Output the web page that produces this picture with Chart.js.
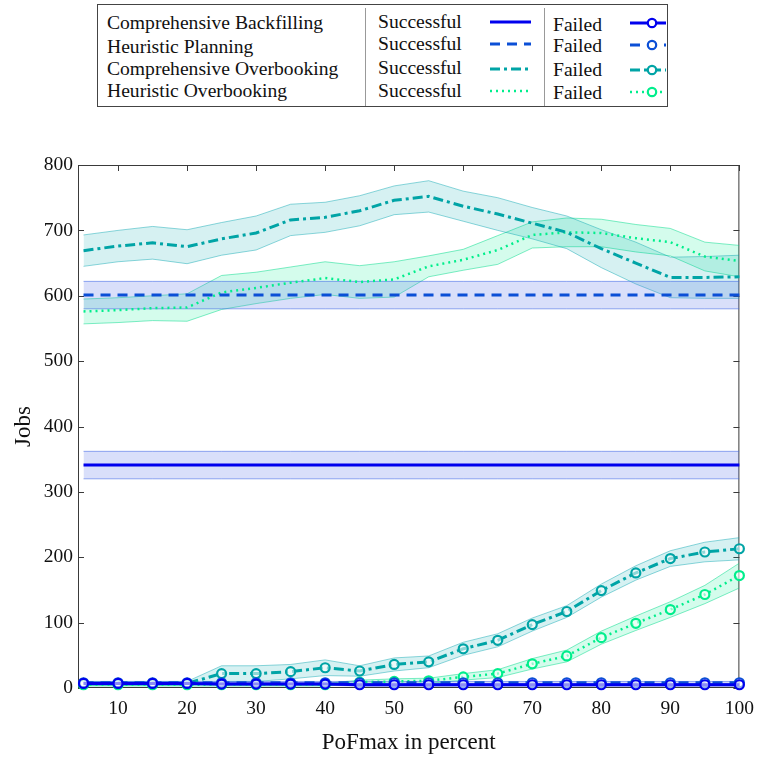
<!DOCTYPE html>
<html>
<head>
<meta charset="utf-8">
<script src="https://cdn.jsdelivr.net/npm/chart.js@4.4.1/dist/chart.umd.min.js"></script>
<style>
  body { margin: 0; background: #fff; }
  #wrap { position: relative; width: 763px; height: 758px; }
  #chart { position: absolute; left: 0; top: 0; }
  #legend { position: absolute; left: 0; top: 0; }
  #legend text { font-family: "Liberation Serif", serif; font-size: 19.6px; fill: #111; }
</style>
</head>
<body>
<div id="wrap">
  <canvas id="chart" width="763" height="758"></canvas>
  <svg id="legend" width="763" height="112"></svg>
</div>
<script>
// PoFmax in percent
var xValues = [5, 10, 15, 20, 25, 30, 35, 40, 45, 50, 55, 60, 65, 70, 75, 80, 85, 90, 95, 100];
var xTicks = [10, 20, 30, 40, 50, 60, 70, 80, 90, 100];
var yTicks = [0, 100, 200, 300, 400, 500, 600, 700, 800];

var methods = ['Comprehensive Backfilling', 'Heuristic Planning', 'Comprehensive Overbooking', 'Heuristic Overbooking'];

// successful jobs (mean) and half width of the shaded band
var cbSuccess = [341, 341, 341, 341, 341, 341, 341, 341, 341, 341, 341, 341, 341, 341, 341, 341, 341, 341, 341, 341];
var cbSuccessErr = [21, 21, 21, 21, 21, 21, 21, 21, 21, 21, 21, 21, 21, 21, 21, 21, 21, 21, 21, 21];
var hpSuccess = [601, 601, 601, 601, 601, 601, 601, 601, 601, 601, 601, 601, 601, 601, 601, 601, 601, 601, 601, 601];
var hpSuccessErr = [21, 21, 21, 21, 21, 21, 21, 21, 21, 21, 21, 21, 21, 21, 21, 21, 21, 21, 21, 21];
var coSuccess = [669, 676, 681, 675, 687, 696, 716, 720, 730, 746, 752, 737, 725, 711, 697, 672, 650, 628, 628, 629];
var coSuccessErr = [24, 24, 25, 26, 25, 26, 24, 23, 23, 22, 24, 23, 25, 24, 25, 29, 32, 31, 32, 33];
var hoSuccess = [576, 578, 581, 582, 605, 612, 620, 627, 621, 625, 645, 655, 670, 693, 697, 696, 688, 682, 660, 653];
var hoSuccessErr = [19, 19, 19, 21, 26, 24, 24, 25, 25, 27, 16, 16, 22, 20, 22, 21, 21, 21, 22, 24];

// failed jobs
var cbFailed = [7, 7, 7, 7, 6, 6, 6, 6, 5, 5, 5, 5, 5, 5, 5, 5, 5, 5, 5, 5];
var cbFailedErr = [2, 2, 2, 2, 2, 2, 2, 2, 2, 2, 2, 2, 2, 2, 2, 2, 2, 2, 2, 2];
var hpFailed = [8, 8, 8, 8, 8, 8, 8, 8, 8, 8, 8, 8, 8, 8, 8, 8, 8, 8, 8, 8];
var hpFailedErr = [2, 2, 2, 2, 2, 2, 2, 2, 2, 2, 2, 2, 2, 2, 2, 2, 2, 2, 2, 2];
var coFailed = [7, 7, 7, 7, 22, 22, 25, 31, 26, 36, 40, 60, 73, 97, 117, 149, 176, 198, 208, 213];
var coFailedErr = [3, 3, 3, 3, 12, 12, 11, 12, 8, 10, 9, 10, 10, 10, 9, 10, 11, 12, 15, 17];
var hoFailed = [5, 5, 5, 5, 5, 5, 5, 5, 9, 10, 11, 17, 22, 37, 49, 77, 99, 120, 143, 172];
var hoFailedErr = [2, 2, 2, 2, 2, 2, 2, 2, 3, 4, 4, 5, 6, 8, 9, 10, 11, 12, 14, 19];

var colors = {
  cb: '#0000ee',
  hp: '#0b4fd6',
  co: '#00a4a6',
  ho: '#00ee8c'
};
var bandColors = {
  cb: { fill: 'rgba(80,110,230,0.22)', edge: 'rgba(60,100,230,0.55)' },
  hp: { fill: 'rgba(80,110,230,0.22)', edge: 'rgba(60,100,230,0.55)' },
  co: { fill: 'rgba(0,170,175,0.16)', edge: 'rgba(0,165,175,0.45)' },
  ho: { fill: 'rgba(0,240,140,0.17)', edge: 'rgba(0,220,140,0.5)' }
};
var dashes = {
  cb: [],
  hp: [10, 7],
  co: [10, 4, 3, 4],
  ho: [2, 4]
};

function pts(ys) {
  return xValues.map(function (x, i) { return { x: x, y: ys[i] }; });
}

function lineSet(name, ys, key, failed) {
  return {
    label: name,
    data: pts(ys),
    borderColor: colors[key],
    backgroundColor: colors[key],
    borderWidth: key == 'ho' ? 2.5 : 3,
    borderDash: dashes[key],
    pointRadius: failed ? 4.5 : 0,
    pointBorderWidth: 2.2,
    pointBackgroundColor: 'rgba(255,255,255,0.55)',
    pointBorderColor: colors[key],
    fill: false,
    clip: false,
    order: 0
  };
}

function bandSets(ys, errs, key) {
  var up = ys.map(function (v, i) { return v + errs[i]; });
  var lo = ys.map(function (v, i) { return Math.max(0, v - errs[i]); });
  var c = bandColors[key];
  return [
    { data: pts(up), borderColor: c.edge, borderWidth: 1, pointRadius: 0, fill: false, order: 1 },
    { data: pts(lo), borderColor: c.edge, borderWidth: 1, pointRadius: 0, fill: '-1', backgroundColor: c.fill, order: 1 }
  ];
}

var datasets = [
  lineSet(methods[0] + ' Failed', cbFailed, 'cb', true),
  lineSet(methods[1] + ' Failed', hpFailed, 'hp', true),
  lineSet(methods[3] + ' Failed', hoFailed, 'ho', true),
  lineSet(methods[2] + ' Failed', coFailed, 'co', true),
  lineSet(methods[0] + ' Successful', cbSuccess, 'cb', false),
  lineSet(methods[1] + ' Successful', hpSuccess, 'hp', false),
  lineSet(methods[2] + ' Successful', coSuccess, 'co', false),
  lineSet(methods[3] + ' Successful', hoSuccess, 'ho', false)
].concat(
  bandSets(cbSuccess, cbSuccessErr, 'cb'),
  bandSets(hpSuccess, hpSuccessErr, 'hp'),
  bandSets(coSuccess, coSuccessErr, 'co'),
  bandSets(hoSuccess, hoSuccessErr, 'ho'),
  bandSets(cbFailed, cbFailedErr, 'cb'),
  bandSets(hpFailed, hpFailedErr, 'hp'),
  bandSets(coFailed, coFailedErr, 'co'),
  bandSets(hoFailed, hoFailedErr, 'ho')
);

// box around the plot with inward ticks on all four sides
var framePlugin = {
  id: 'frame',
  beforeDatasetsDraw: function (chart) {
    var ctx = chart.ctx, a = chart.chartArea, sx = chart.scales.x, sy = chart.scales.y;
    ctx.save();
    ctx.strokeStyle = '#3a3a3a';
    ctx.lineWidth = 1;
    ctx.strokeRect(a.left + 0.5, a.top + 0.5, a.right - a.left - 1, a.bottom - a.top - 1);
    ctx.beginPath();
    xTicks.forEach(function (v) {
      var px = Math.round(sx.getPixelForValue(v)) + 0.5;
      ctx.moveTo(px, a.top); ctx.lineTo(px, a.top + 6);
      ctx.moveTo(px, a.bottom); ctx.lineTo(px, a.bottom - 6);
    });
    yTicks.forEach(function (v) {
      var py = Math.round(sy.getPixelForValue(v)) + 0.5;
      ctx.moveTo(a.left, py); ctx.lineTo(a.left + 6, py);
      ctx.moveTo(a.right, py); ctx.lineTo(a.right - 6, py);
    });
    ctx.stroke();
    ctx.restore();
  }
};

var tickFont = { family: 'Liberation Serif', size: 19.5 };

new Chart(document.getElementById('chart').getContext('2d'), {
  type: 'line',
  data: { datasets: datasets },
  options: {
    responsive: false,
    animation: false,
    layout: { padding: { left: 0, right: 20, top: 165, bottom: 0 } },
    plugins: { legend: { display: false }, tooltip: { enabled: false } },
    scales: {
      x: {
        type: 'linear',
        min: 4.2,
        max: 100,
        grid: { display: false, drawTicks: false },
        border: { display: false },
        afterBuildTicks: function (s) { s.ticks = xTicks.map(function (v) { return { value: v }; }); },
        afterFit: function (s) { s.height = 70; },
        ticks: { color: '#111', font: tickFont, padding: 9, maxRotation: 0 },
        title: { display: true, text: 'PoFmax in percent', color: '#111', font: { family: 'Liberation Serif', size: 23 }, padding: { top: 0, bottom: 1 } }
      },
      y: {
        min: 0,
        max: 800,
        grid: { display: false, drawTicks: false },
        border: { display: false },
        afterBuildTicks: function (s) { s.ticks = yTicks.map(function (v) { return { value: v }; }); },
        afterFit: function (s) { s.width = 78; },
        ticks: { color: '#111', font: tickFont, padding: 5 },
        title: { display: true, text: 'Jobs', color: '#111', font: { family: 'Liberation Serif', size: 23 }, padding: { top: 10, bottom: 0 } }
      }
    }
  },
  plugins: [framePlugin]
});

// legend box above the chart
(function () {
  var svg = document.getElementById('legend');
  var NS = 'http://www.w3.org/2000/svg';
  var keys = ['cb', 'hp', 'co', 'ho'];
  var nameY = [29, 53, 75, 97];
  var succY = [28, 50, 74, 97];
  var failY = [31, 52, 76, 99];
  var sampleY = [22, 44, 69, 91];

  function el(tag, attrs, txt) {
    var e = document.createElementNS(NS, tag);
    for (var k in attrs) e.setAttribute(k, attrs[k]);
    if (txt) e.textContent = txt;
    svg.appendChild(e);
    return e;
  }

  el('rect', { x: 97.5, y: 4.5, width: 570, height: 102, fill: '#fff', stroke: '#444', 'stroke-width': 1 });
  el('line', { x1: 365.5, y1: 8, x2: 365.5, y2: 106, stroke: '#999', 'stroke-width': 1 });
  el('line', { x1: 544.5, y1: 8, x2: 544.5, y2: 106, stroke: '#999', 'stroke-width': 1 });

  keys.forEach(function (k, i) {
    el('text', { x: 107, y: nameY[i] }, methods[i]);
    el('text', { x: 378, y: succY[i] }, 'Successful');
    el('text', { x: 553, y: failY[i] }, 'Failed');
    var dash = dashes[k].length ? dashes[k].join(',') : 'none';
    var w = k == 'ho' ? 2.5 : 3;
    el('line', { x1: 490, y1: sampleY[i], x2: 531, y2: sampleY[i], stroke: colors[k], 'stroke-width': w, 'stroke-dasharray': dash });
    el('line', { x1: 630, y1: sampleY[i] + 1, x2: 666, y2: sampleY[i] + 1, stroke: colors[k], 'stroke-width': w, 'stroke-dasharray': dash });
    el('circle', { cx: 652, cy: sampleY[i] + 1, r: 4.2, fill: '#fff', stroke: colors[k], 'stroke-width': 2.2 });
  });
})();
</script>
</body>
</html>
